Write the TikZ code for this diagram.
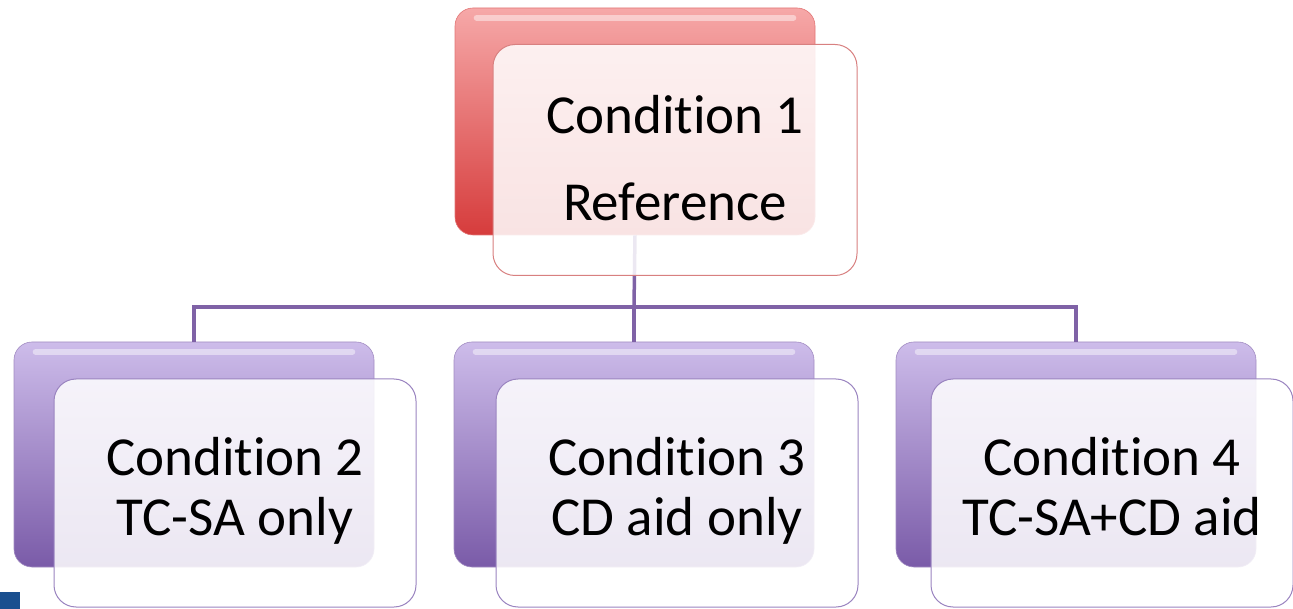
\documentclass[tikz,border=0pt]{standalone}
\usepackage{fontspec}
\setmainfont{Carlito}[Ligatures={NoCommon},RawFeature={-liga;-calt;-dlig;-clig}]
\definecolor{redTop}{HTML}{F6A8A8}
\definecolor{redBot}{HTML}{D63C3C}
\definecolor{purTop}{HTML}{CDBCEA}
\definecolor{purBot}{HTML}{7A5BA8}
\definecolor{conncol}{HTML}{7F62A6}
\definecolor{redEdge}{HTML}{D88080}
\definecolor{purEdge}{HTML}{9A84C0}
\definecolor{corner}{HTML}{1A4F8F}
\begin{document}
\begin{tikzpicture}[x=1pt,y=-1pt,
  backred/.style={rectangle,rounded corners=18pt,minimum width=360pt,minimum height=227pt,
     inner sep=0pt,top color=redTop,bottom color=redBot,draw=redBot!70!white,line width=0.6pt},
  backpur/.style={rectangle,rounded corners=18pt,minimum width=360pt,minimum height=225pt,
     inner sep=0pt,top color=purTop,bottom color=purBot,draw=purBot!70!white,line width=0.6pt},
  frontred/.style={rectangle,rounded corners=22pt,minimum width=364pt,minimum height=231pt,
     inner sep=0pt,fill=white,fill opacity=0.86,text opacity=1,draw=redEdge,line width=1pt,
     align=center,font=\fontsize{55}{87}\selectfont},
  frontpur/.style={rectangle,rounded corners=22pt,minimum width=362pt,minimum height=228pt,
     inner sep=0pt,fill=white,fill opacity=0.86,text opacity=1,draw=purEdge,line width=1pt,
     align=center,font=\fontsize{55}{60}\selectfont},
  conn/.style={draw=conncol,line width=3.5pt},
  gloss/.style={draw=white,line width=6pt,opacity=0.45,line cap=round}]
\useasboundingbox (0,0) rectangle (1293,609);
% back boxes
\node[backred] (b1) at (635,121.5) {};
\node[backpur] (b2) at (194,454.5) {};
\node[backpur] (b3) at (634,454.5) {};
\node[backpur] (b4) at (1076,454.5) {};
% gloss highlights
\foreach \n in {b1,b2,b3,b4}{
  \draw[gloss] ([xshift=22pt,yshift=-10pt]\n.north west) -- ([xshift=-22pt,yshift=-10pt]\n.north east);
}
% connectors
\coordinate (hub) at (634,307);
\draw[conn] (b1.south) -- (hub);
\draw[conn] (b2.north) |- (hub) -| (b4.north);
\draw[conn] (hub) -- (b3.north);
% front boxes
\node[frontred] (f1) at (675,160) {\strut Condition 1\\\strut Reference};
\node[frontpur] (f2) at (235,493) {\strut Condition 2\\\strut TC-SA only};
\node[frontpur] (f3) at (677,493) {\strut Condition 3\\\strut CD aid only};
\node[frontpur] (f4) at (1112,493) {\strut Condition 4\\\strut TC-SA+CD aid};
% corner mark
\fill[corner] (0,592) rectangle (20,609);
\end{tikzpicture}
\end{document}
